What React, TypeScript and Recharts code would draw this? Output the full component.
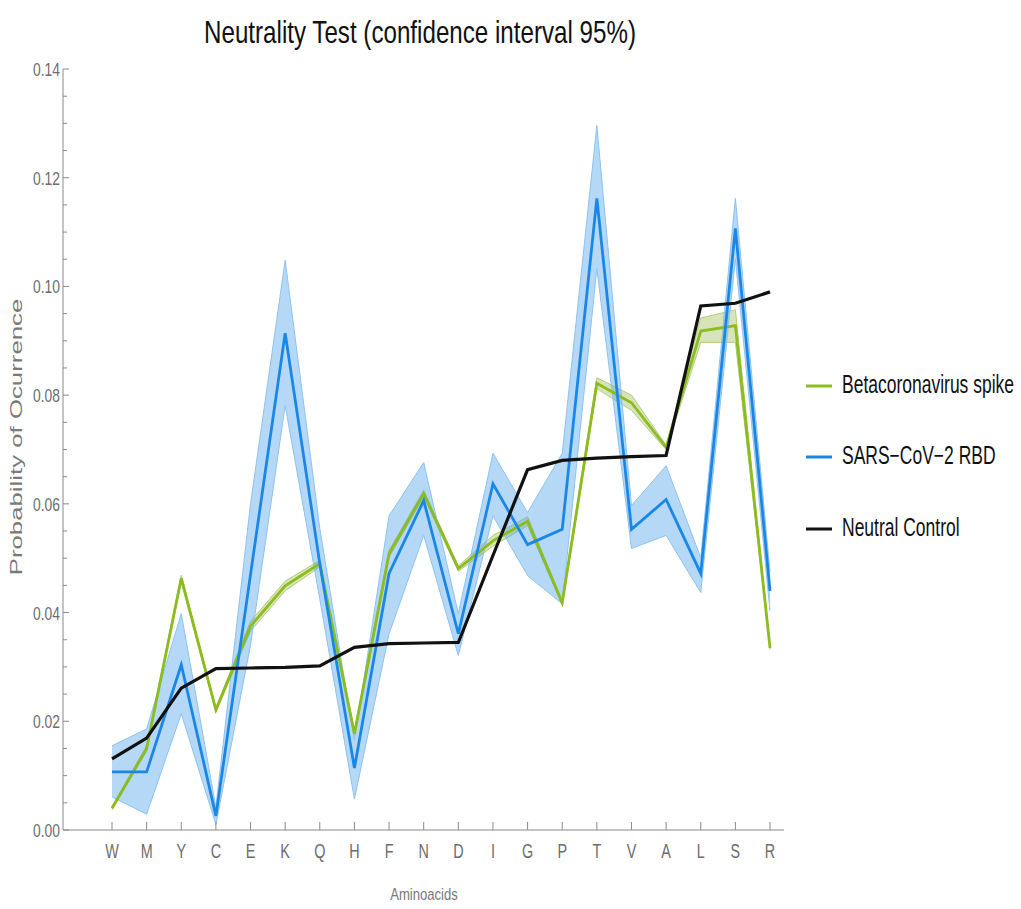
import { ComposedChart, Area, Line, XAxis, YAxis } from "recharts";

const categories = ["W", "M", "Y", "C", "E", "K", "Q", "H", "F", "N", "D", "I", "G", "P", "T", "V", "A", "L", "S", "R"];

const neutral = [0.0131, 0.0169, 0.0261, 0.0297, 0.0298, 0.0299, 0.0302, 0.0336, 0.0343, 0.0344, 0.0345, 0.0505, 0.0663, 0.068, 0.0684, 0.0687, 0.0689, 0.0964, 0.0969, 0.099];

const beta = [0.004, 0.015, 0.0463, 0.0221, 0.0375, 0.0449, 0.049, 0.0177, 0.0508, 0.0619, 0.0481, 0.0532, 0.0568, 0.0418, 0.0822, 0.0786, 0.0704, 0.0918, 0.0928, 0.0335];
const betaLow = [0.0037, 0.0145, 0.0457, 0.0217, 0.0366, 0.044, 0.0484, 0.0172, 0.0502, 0.0613, 0.0476, 0.0522, 0.056, 0.0414, 0.0812, 0.0772, 0.07, 0.0897, 0.0897, 0.0332];
const betaHigh = [0.0043, 0.0155, 0.0469, 0.0225, 0.0384, 0.0458, 0.0496, 0.0182, 0.0514, 0.0625, 0.0486, 0.0542, 0.0576, 0.0422, 0.0832, 0.08, 0.0708, 0.0942, 0.0957, 0.0338];

const sars = [0.0107, 0.0107, 0.0304, 0.0026, 0.047, 0.0914, 0.049, 0.0114, 0.0472, 0.0606, 0.0361, 0.0637, 0.0525, 0.0553, 0.1162, 0.0553, 0.0608, 0.0472, 0.1107, 0.044];
const sarsLow = [0.0061, 0.0029, 0.0214, 0.001, 0.034, 0.0781, 0.0425, 0.0057, 0.0361, 0.0542, 0.0321, 0.0578, 0.0468, 0.0416, 0.1033, 0.0518, 0.0542, 0.0437, 0.105, 0.0403];
const sarsHigh = [0.0155, 0.0186, 0.0398, 0.0042, 0.06, 0.1048, 0.0555, 0.0165, 0.0578, 0.0676, 0.0398, 0.0693, 0.0584, 0.0693, 0.1296, 0.0597, 0.067, 0.0501, 0.1162, 0.0475];

const yTicks = [0, 0.005, 0.01, 0.015, 0.02, 0.025, 0.03, 0.035, 0.04, 0.045, 0.05, 0.055, 0.06, 0.065, 0.07, 0.075, 0.08, 0.085, 0.09, 0.095, 0.1, 0.105, 0.11, 0.115, 0.12, 0.125, 0.13, 0.135, 0.14];
const xTicks = categories.map((_, i) => i);

const GREEN = "#8cbc1e";
const BLUE = "#1a87e6";
const BLACK = "#111111";
const FONT = "'Liberation Sans', Arial, sans-serif";

const W = 1021;
const H = 909;
const AXIS_X = 63;
const AXIS_Y = 830;

const data = categories.map((c, i) => ({
  x: i,
  name: c,
  neutral: neutral[i],
  beta: beta[i],
  betaBand: [betaLow[i], betaHigh[i]],
  sars: sars[i],
  sarsBand: [sarsLow[i], sarsHigh[i]],
}));

const isMajor = (v: number) => Math.abs(v / 0.02 - Math.round(v / 0.02)) < 1e-6;

function YTick(props: any) {
  const { y, payload } = props;
  const v = payload.value as number;
  const major = isMajor(v);
  return (
    <g>
      <line x1={AXIS_X} x2={AXIS_X + (major ? 6 : 4)} y1={y} y2={y} stroke="#8a8a8a" strokeWidth={1} />
      {major && (
        <text
          transform={`translate(${AXIS_X - 3},${y + 7}) scale(0.73,1)`}
          textAnchor="end"
          fontSize={19}
          fontFamily={FONT}
          fill="#6d6d6d"
        >
          {v.toFixed(2)}
        </text>
      )}
    </g>
  );
}

function XTick(props: any) {
  const { x, payload } = props;
  return (
    <g>
      <line x1={x} x2={x} y1={AXIS_Y} y2={AXIS_Y - 8} stroke="#8a8a8a" strokeWidth={1} />
      <text
        transform={`translate(${x},${AXIS_Y + 28}) scale(0.72,1)`}
        textAnchor="middle"
        fontSize={20}
        fontFamily={FONT}
        fill="#6d6d6d"
      >
        {categories[payload.value]}
      </text>
    </g>
  );
}

const legendItems = [
  { label: "Betacoronavirus spike", color: GREEN, y: 386 },
  { label: "SARS\u2212CoV\u22122 RBD", color: BLUE, y: 457 },
  { label: "Neutral Control", color: BLACK, y: 529 },
];

export default function App() {
  return (
    <div style={{ position: "absolute", left: 0, top: 0, width: W, height: H, background: "#fff" }}>
      <ComposedChart width={W} height={H} data={data} margin={{ top: 69, right: W - 784, bottom: 0, left: 0 }}>
        <XAxis
          dataKey="x"
          type="number"
          domain={[-1.415, 19.404]}
          allowDataOverflow
          ticks={xTicks}
          interval={0}
          tick={XTick}
          tickLine={false}
          axisLine={{ stroke: "#8a8a8a" }}
          height={79}
        />
        <YAxis
          type="number"
          domain={[0, 0.14]}
          allowDataOverflow
          ticks={yTicks}
          interval={0}
          tick={YTick}
          tickLine={false}
          axisLine={{ stroke: "#8a8a8a" }}
          width={63}
        />
        <Area
          type="linear"
          dataKey="betaBand"
          stroke="#b4cc7c"
          strokeWidth={1}
          fill="#9cbc52"
          fillOpacity={0.4}
          isAnimationActive={false}
        />
        <Line type="linear" dataKey="beta" stroke={GREEN} strokeWidth={2.8} dot={false} isAnimationActive={false} />
        <Area
          type="linear"
          dataKey="sarsBand"
          stroke="#8cc3f0"
          strokeWidth={1}
          fill="#5aa8ee"
          fillOpacity={0.45}
          isAnimationActive={false}
        />
        <Line type="linear" dataKey="sars" stroke={BLUE} strokeWidth={2.8} dot={false} isAnimationActive={false} />
        <Line type="linear" dataKey="neutral" stroke={BLACK} strokeWidth={3.2} dot={false} isAnimationActive={false} />
      </ComposedChart>
      <svg
        width={W}
        height={H}
        style={{ position: "absolute", left: 0, top: 0, pointerEvents: "none" }}
      >
        <text
          x={420}
          y={43}
          textAnchor="middle"
          fontSize={32}
          fontFamily={FONT}
          fill="#111"
          textLength={432}
          lengthAdjust="spacingAndGlyphs"
        >
          Neutrality Test (confidence interval 95%)
        </text>
        <text
          transform="translate(22,437) rotate(-90) scale(1,0.66)"
          textAnchor="middle"
          fontSize={25.8}
          fontFamily={FONT}
          fill="#7a7a7a"
        >
          Probability of Ocurrence
        </text>
        <text
          transform="translate(424,900) scale(0.77,1)"
          textAnchor="middle"
          fontSize={17}
          fontFamily={FONT}
          fill="#7a7a7a"
        >
          Aminoacids
        </text>
        {legendItems.map((it) => (
          <g key={it.label}>
            <line x1={806} x2={832} y1={it.y} y2={it.y} stroke={it.color} strokeWidth={3} />
            <text
              transform={`translate(842,${it.y + 7}) scale(0.7,1)`}
              fontSize={25}
              fontFamily={FONT}
              fill="#111"
            >
              {it.label}
            </text>
          </g>
        ))}
      </svg>
    </div>
  );
}
